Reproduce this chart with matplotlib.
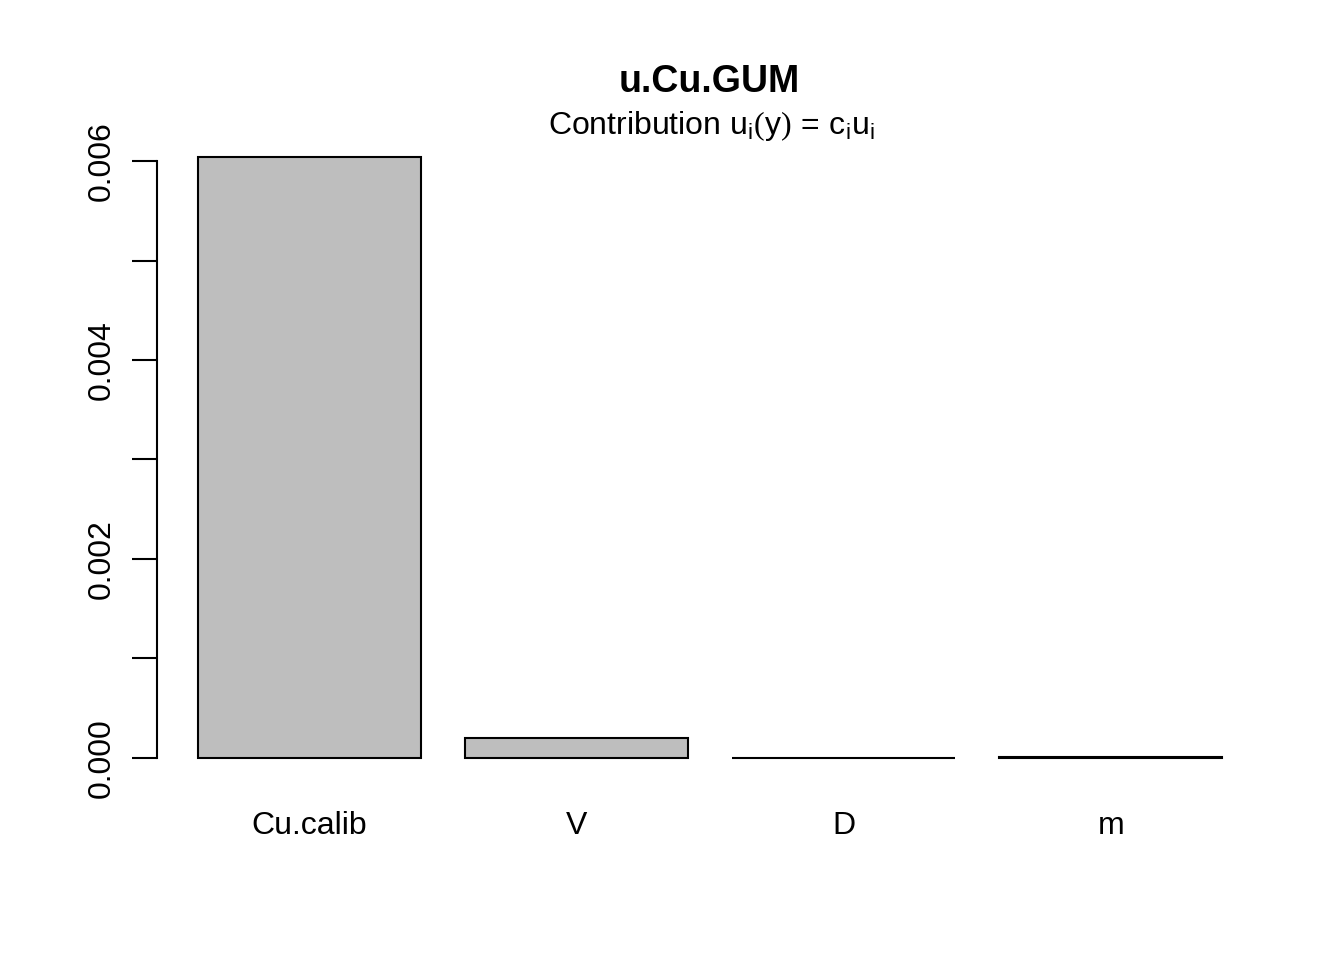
import matplotlib
matplotlib.use("Agg")
import matplotlib.pyplot as plt

categories = ["Cu.calib", "V", "D", "m"]
values = [0.00604, 0.00020, 0.0000002, 0.000008]
yticks = [0.000, 0.001, 0.002, 0.003, 0.004, 0.005, 0.006]
ylabels = ["0.000", "", "0.002", "", "0.004", "", "0.006"]

plt.rcParams['font.family'] = ['Liberation Sans', 'DejaVu Sans']
plt.rcParams['mathtext.fontset'] = 'custom'
plt.rcParams['mathtext.rm'] = 'Liberation Serif'
plt.rcParams['mathtext.sf'] = 'Liberation Sans'
plt.rcParams['mathtext.it'] = 'Liberation Sans'

fig = plt.figure(figsize=(13.44, 9.6), dpi=100)
ax = fig.add_axes([157/1344, 1-782/960, (1263-157)/1344, (782-133)/960])

space = 0.2
lefts = [space + i * (1 + space) for i in range(len(categories))]
centers = [l + 0.5 for l in lefts]
ax.bar(centers, values, width=1.0, color="#BEBEBE", edgecolor="black", linewidth=1.5)

ax.set_xlim(0.016, 4.984)
top = max(values)
ax.set_ylim(-0.04 * top, top * 1.04)

for s in ["top", "right", "bottom"]:
    ax.spines[s].set_visible(False)
ax.spines['left'].set_bounds(0, 0.006)
ax.spines['left'].set_linewidth(1.5)

ax.set_yticks(yticks)
ax.set_yticklabels(ylabels, rotation=90, va='center', fontsize=23)
ax.tick_params(axis='y', length=18, width=1.5, pad=11)
ax.set_xticks(centers)
ax.set_xticklabels(categories, fontsize=23)
ax.tick_params(axis='x', length=0, pad=21)

fig.text(0.528, 1-82/960, "u.Cu.GUM", ha='center', va='center', fontsize=27, fontweight='bold')
fig.text(0.529, 1-126/960, r"Contribution $\mathsf{u_i}\mathrm{(}\mathsf{y}\mathrm{)}\,\mathsf{=}\,\mathsf{c_iu_i}$",
         ha='center', va='center', fontsize=23)

fig.savefig("out.png", dpi=100)
